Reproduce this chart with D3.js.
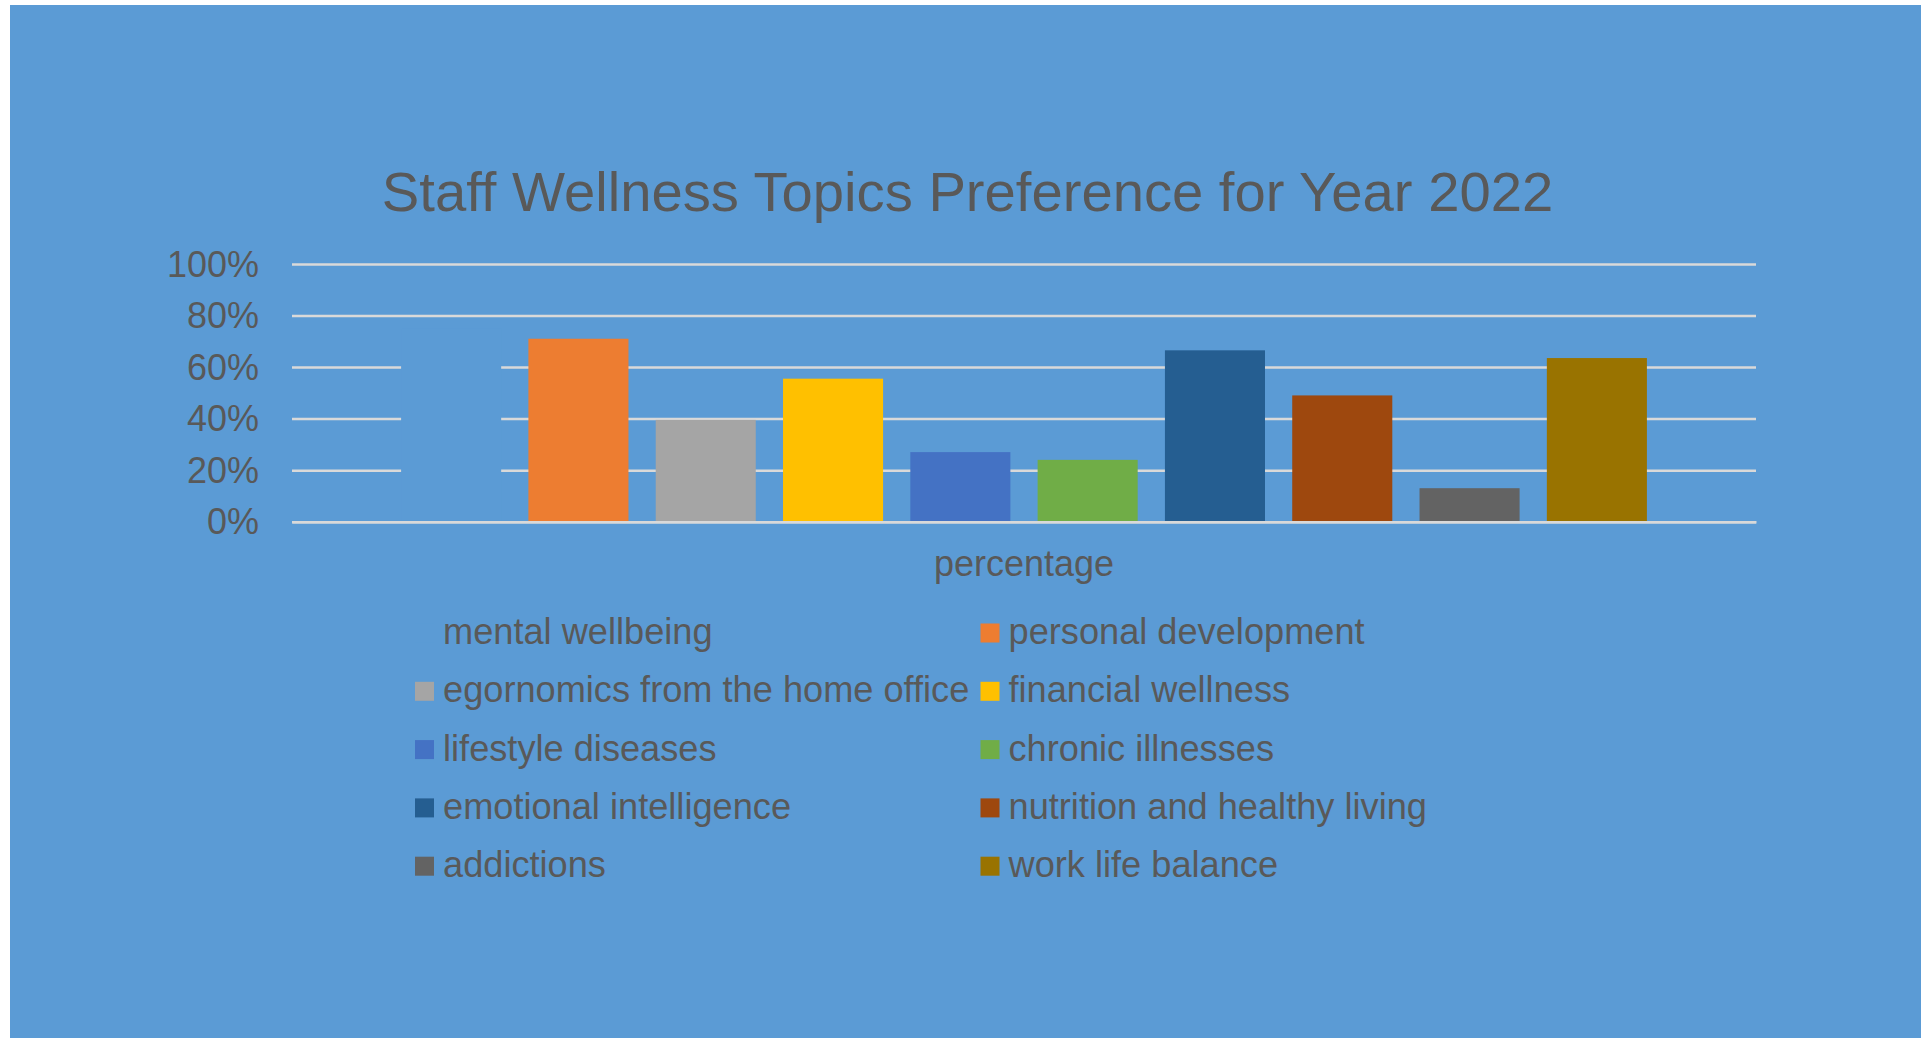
<!DOCTYPE html>
<html>
<head>
<meta charset="utf-8">
<script src="https://cdn.jsdelivr.net/npm/d3@7"></script>
<style>
  html, body { margin: 0; padding: 0; background: #ffffff; }
  svg { display: block; font-family: "Liberation Sans", Arial, sans-serif; }
</style>
</head>
<body>
<svg id="chart"></svg>
<script>
const W = 1921, H = 1038;

// data
const category = ["percentage"];
const topics = ["mental wellbeing", "personal development", "egornomics from the home office",
    "financial wellness", "lifestyle diseases", "chronic illnesses",
    "emotional intelligence", "nutrition and healthy living", "addictions", "work life balance"];
const shares = [0.75, 0.71, 0.395, 0.555, 0.27, 0.24, 0.665, 0.49, 0.13, 0.635];
const topicColors = ["#5B9BD5", "#ED7D31", "#A5A5A5", "#FFC000", "#4472C4",
    "#70AD47", "#255E91", "#9E480E", "#636363", "#997300"];
const yTicks = [0, 0.2, 0.4, 0.6, 0.8, 1.0];

const bg = "#5B9BD5",
    textCol = "#595959",
    gridCol = "#D9D9D9";

// plot box
const plot = { left: 292, right: 1756, top: 264, bottom: 521.7 };

const svg = d3.select("#chart").attr("width", W).attr("height", H);

// chart area (white strip left / top as in the screenshot)
svg.append("rect").attr("width", W).attr("height", H).attr("fill", "#ffffff");
svg.append("rect")
    .attr("x", 10).attr("y", 5)
    .attr("width", W - 10).attr("height", H - 5)
    .attr("fill", bg);

// title
svg.append("text")
    .attr("x", 967.5).attr("y", 211)
    .attr("text-anchor", "middle")
    .style("font-size", "56.2px")
    .style("fill", textCol)
    .text("Staff Wellness Topics Preference for Year 2022");

const y = d3.scaleLinear().domain([0, 1]).range([plot.bottom, plot.top]);

const x0 = d3.scaleBand().domain(category).range([plot.left, plot.right]).padding(0);
const x1 = d3.scaleBand().domain(topics)
    .range([0, x0.bandwidth()])
    .paddingInner(0.214)
    .paddingOuter(0.857);

// gridlines + y labels
const yAxis = svg.append("g")
    .attr("transform", "translate(" + plot.left + ",0)")
    .call(d3.axisLeft(y)
        .tickValues(yTicks)
        .tickFormat(d3.format(".0%"))
        .tickSize(-(plot.right - plot.left))
        .tickPadding(33));
yAxis.select(".domain").remove();
yAxis.selectAll(".tick line")
    .attr("stroke", gridCol)
    .attr("stroke-width", 2.5);
yAxis.selectAll(".tick text")
    .attr("dy", "12px")
    .style("font-size", "36px")
    .style("font-family", "'Liberation Sans', Arial, sans-serif")
    .style("fill", textCol);

// bars
const group = svg.append("g")
    .selectAll("g")
    .data(category)
    .enter().append("g")
    .attr("transform", d => "translate(" + x0(d) + ",0)");

group.selectAll("rect")
    .data(topics.map((t, i) => ({ topic: t, value: shares[i], color: topicColors[i] })))
    .enter().append("rect")
    .attr("x", d => x1(d.topic))
    .attr("y", d => y(d.value))
    .attr("width", x1.bandwidth())
    .attr("height", d => y(0) - y(d.value))
    .attr("fill", d => d.color);

// category axis line, drawn over the bars
const xAxis = svg.append("g")
    .attr("transform", "translate(0," + y(0) + ")")
    .call(d3.axisBottom(x0).tickSize(0).tickFormat(""));
xAxis.select(".domain")
    .attr("stroke", gridCol)
    .attr("stroke-width", 2.5);

// category label under the axis
svg.append("g")
    .selectAll("text")
    .data(category)
    .enter().append("text")
    .attr("x", d => x0(d) + x0.bandwidth() / 2)
    .attr("y", 576)
    .attr("text-anchor", "middle")
    .style("font-size", "36px")
    .style("fill", textCol)
    .text(d => d);

// legend: two columns, filled row by row
const legCols = [415, 980.5],
    legRow0 = 633,
    legPitch = 58.3,
    sw = 19;

const leg = svg.append("g")
    .selectAll("g")
    .data(topics)
    .enter().append("g")
    .attr("transform", (d, i) => "translate(" + legCols[i % 2] + "," + (legRow0 + Math.floor(i / 2) * legPitch) + ")");

leg.append("rect")
    .attr("x", 0).attr("y", -sw / 2)
    .attr("width", sw).attr("height", sw)
    .attr("fill", (d, i) => topicColors[i]);

leg.append("text")
    .attr("x", 28).attr("y", 11)
    .style("font-size", "36.2px")
    .style("fill", textCol)
    .text(d => d);
</script>
</body>
</html>
